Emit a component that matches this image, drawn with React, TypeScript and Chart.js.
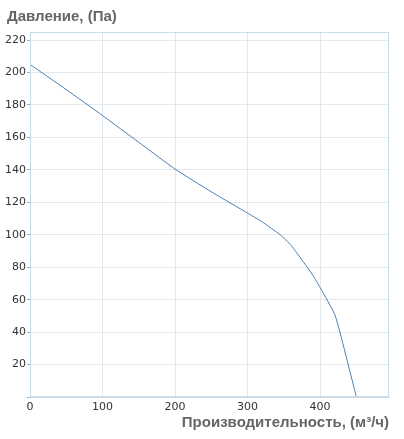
import React, { useEffect, useRef } from "react";
import { Chart, registerables } from "chart.js";

Chart.register(...registerables);

const flow = [0, 50, 100, 150, 200, 250, 290, 320, 345, 360, 375, 390, 400, 421, 450];
const pressure = [205, 189.5, 173.5, 157, 140.5, 126.5, 116, 108, 100, 93.5, 84.5, 75, 67.5, 50, 0];
const xTicks = [0, 100, 200, 300, 400];
const yTicks = [0, 20, 40, 60, 80, 100, 120, 140, 160, 180, 200, 220];
const yTitle = "Давление, (Па)";
const xTitle = "Производительность, (м³/ч)";

const boxPlugin = {
  id: "boxAndTitle",
  afterDraw(chart: any) {
    const { ctx, chartArea } = chart;
    ctx.save();
    ctx.strokeStyle = "#c9dbe7";
    ctx.lineWidth = 1;
    ctx.strokeRect(
      Math.round(chartArea.left) + 0.5,
      Math.round(chartArea.top) + 0.5,
      Math.round(chartArea.right - chartArea.left) - 1,
      Math.round(chartArea.bottom - chartArea.top) - 1
    );
    ctx.fillStyle = "#666666";
    ctx.font = "bold 15px 'Liberation Sans', Arial, sans-serif";
    ctx.textBaseline = "middle";
    ctx.textAlign = "left";
    ctx.fillText(yTitle, 7, 17);
    ctx.restore();
  },
};

export default function App() {
  const ref = useRef<HTMLCanvasElement | null>(null);
  useEffect(() => {
    if (!ref.current) return;
    const chart = new Chart(ref.current, {
      type: "line",
      data: {
        datasets: [
          {
            data: flow.map((x, i) => ({ x, y: pressure[i] })),
            borderColor: "#4a7fb3",
            borderWidth: 1,
            pointRadius: 0,
            fill: false,
            tension: 0.15,
          },
        ],
      },
      plugins: [boxPlugin],
      options: {
        animation: false,
        responsive: false,
        maintainAspectRatio: false,
        layout: { padding: { left: 0, right: 15, top: 32, bottom: 0 } },
        plugins: {
          legend: { display: false },
          tooltip: { enabled: false },
        },
        scales: {
          x: {
            type: "linear",
            min: 0,
            max: 495,
            afterFit: (s: any) => {
              s.height = 42;
            },
            afterBuildTicks: (s: any) => {
              s.ticks = xTicks.map((value) => ({ value }));
            },
            ticks: {
              padding: 4,
              color: "#333333",
              font: { family: "'DejaVu Sans', Verdana, sans-serif", size: 11 },
            },
            grid: { color: "#e1e9ef", drawTicks: false },
            border: { color: "#c9dbe7" },
            title: {
              display: true,
              text: xTitle,
              align: "end",
              color: "#666666",
              font: { family: "'Liberation Sans', Arial, sans-serif", size: 15, weight: "bold" },
              padding: { top: 0, bottom: 7 },
            },
          },
          y: {
            type: "linear",
            min: 0,
            max: 225,
            afterFit: (s: any) => {
              s.width = 30;
            },
            afterBuildTicks: (s: any) => {
              s.ticks = yTicks.map((value) => ({ value }));
            },
            ticks: {
              padding: 1,
              color: "#333333",
              font: { family: "'DejaVu Sans', Verdana, sans-serif", size: 11 },
              callback: (v: any) => (v === 0 ? "" : String(v)),
            },
            grid: { color: "#e1e9ef", tickColor: "#8fb0cc", tickLength: 3 },
            border: { color: "#c9dbe7" },
          },
        },
      },
    } as any);
    return () => chart.destroy();
  }, []);
  return (
    <div style={{ position: "absolute", left: 0, top: 0, width: 404, height: 439, background: "#fff" }}>
      <canvas ref={ref} width={404} height={439} style={{ width: 404, height: 439 }} />
    </div>
  );
}
